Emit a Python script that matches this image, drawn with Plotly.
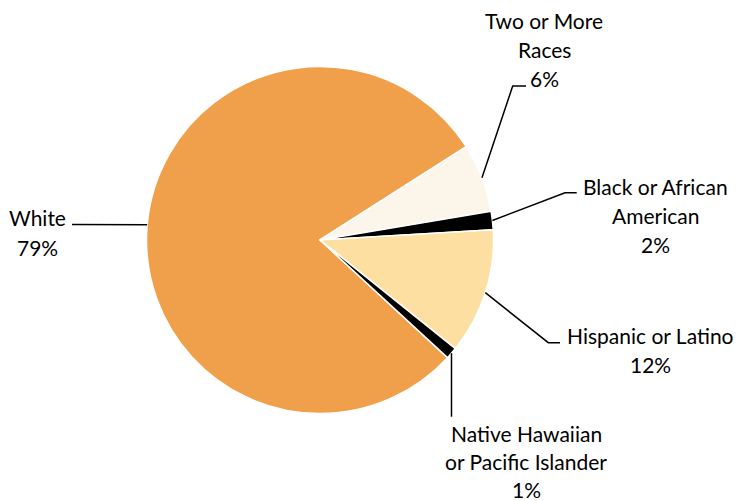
import math
import plotly.graph_objects as go

# ---- data ----
categories = ["White", "Two or More Races", "Black or African American",
              "Hispanic or Latino", "Native Hawaiian or Pacific Islander"]
values = [79.1, 6.4, 1.7, 11.7, 1.1]
label_lines = [["White"], ["Two or More", "Races"], ["Black or African", "American"],
               ["Hispanic or Latino"], ["Native Hawaiian", "or Pacific Islander"]]
colors = ["#F0A04B", "#FCF5EA", "#000000", "#FCDFA1", "#000000"]

# ---- layout constants (pixels) ----
W, H = 738, 501
CX, CY, R = 320, 240, 173.5
START = 132.7
FONT = dict(family="Lato, Open Sans, sans-serif", size=21, color="#000000")
# per label: text center x, baselines of each line, leader-line elbow points
label_layout = [
    dict(cx=37, base=[225, 255], elbow=[(72, 224.6)]),
    dict(cx=544, base=[27.7, 57.3, 86], elbow=[(512.7, 86), (526, 86)]),
    dict(cx=655, base=[194.3, 222.7, 251.7], elbow=[(565, 192.7), (576.7, 192.7)]),
    dict(cx=650, base=[342.7, 371.7], elbow=[(548.3, 342.7), (560, 342.7)]),
    dict(cx=526, base=[440.7, 469, 496.5], elbow=[(None, 416.7)]),
]

total = sum(values)

fig = go.Figure(go.Pie(
    labels=categories, values=values, sort=False, direction="clockwise",
    rotation=START, textinfo="none", hoverinfo="label+percent",
    marker=dict(colors=colors, line=dict(color="#FFFFFF", width=1.5)),
    domain=dict(x=[(CX - R) / W, (CX + R) / W], y=[1 - (CY + R) / H, 1 - (CY - R) / H]),
    showlegend=False,
))

def px(x, y):
    return x / W, 1 - y / H

annotations = []
shapes = []
cum = 0.0
for name, v, lines, lay in zip(categories, values, label_lines, label_layout):
    mid = START + (cum + v / 2) / total * 360.0
    cum += v
    a = math.radians(mid)
    ex, ey = CX + R * math.sin(a), CY - R * math.cos(a)
    pts = [(ex, ey)] + [((ex if x is None else x), y) for x, y in lay["elbow"]]
    path = "M " + " L ".join(f"{px(x, y)[0]:.5f},{px(x, y)[1]:.5f}" for x, y in pts)
    shapes.append(dict(type="path", path=path, xref="paper", yref="paper",
                       line=dict(color="#000000", width=1.5)))
    texts = lines + [f"{round(v / total * 100)}%"]
    for t, b in zip(texts, lay["base"]):
        x, y = px(lay["cx"], b - 7.5)
        annotations.append(dict(text=t, x=x, y=y, xref="paper", yref="paper",
                                xanchor="center", yanchor="middle", showarrow=False,
                                font=FONT))

fig.update_layout(
    width=W, height=H, margin=dict(l=0, r=0, t=0, b=0),
    paper_bgcolor="#FFFFFF", plot_bgcolor="#FFFFFF",
    annotations=annotations, shapes=shapes,
)
fig.write_html("out.html")
